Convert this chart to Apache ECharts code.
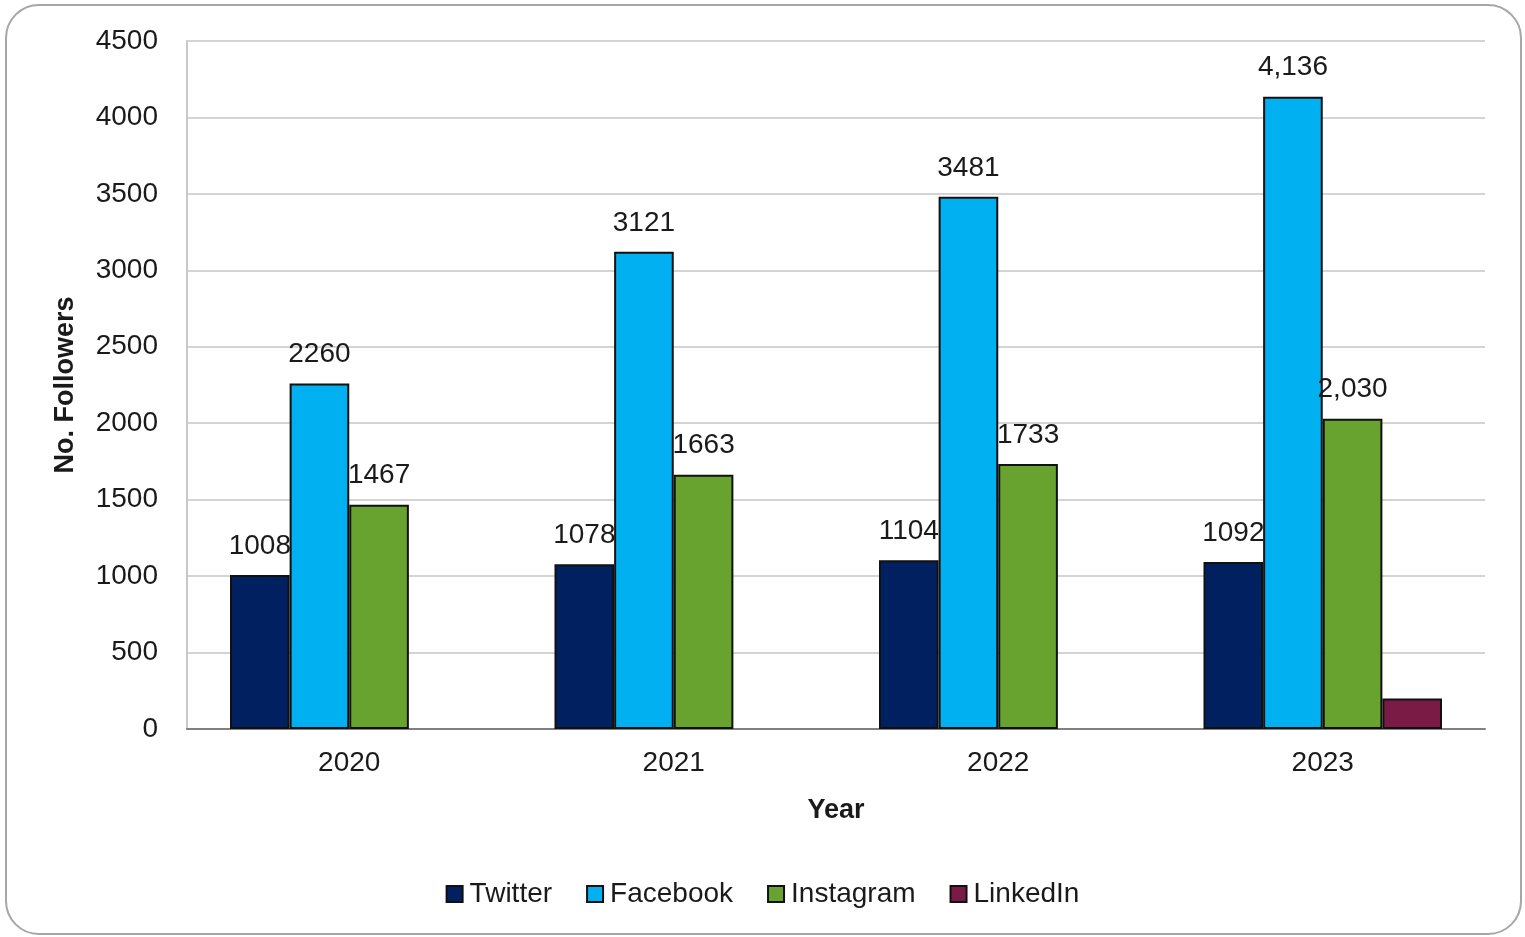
<!DOCTYPE html>
<html><head><meta charset="utf-8">
<script src="https://cdn.jsdelivr.net/npm/echarts@6/dist/echarts.min.js"></script>
<style>
html,body{margin:0;padding:0;background:#fff;}
#frame{position:absolute;left:5px;top:4px;width:1517px;height:931px;border:2px solid #a6a6a6;border-radius:34px;box-sizing:border-box;}
#chart{position:absolute;left:0;top:0;width:1525px;height:937px;}
</style></head>
<body>
<div id="frame"></div>
<div id="chart"></div>
<script>
const years = ['2020', '2021', '2022', '2023'];
const twitter = [1008, 1078, 1104, 1092];
const facebook = [2260, 3121, 3481, 4136];
const instagram = [1467, 1663, 1733, 2030];
const linkedin = [null, null, null, 200];
const twitterLabels = ['1008', '1078', '1104', '1092'];
const facebookLabels = ['2260', '3121', '3481', '4,136'];
const instagramLabels = ['1467', '1663', '1733', '2,030'];
const yTicks = { min: 0, max: 4500, interval: 500 };

const FONT = '"Liberation Sans", Arial, sans-serif';
const FS = 28;
const chart = echarts.init(document.getElementById('chart'), null, { renderer: 'canvas' });

function mkSeries(name, data, color, labels) {
  return {
    name: name,
    type: 'bar',
    data: data,
    barGap: '0%',
    barCategoryGap: '26.5%',
    itemStyle: { color: color, borderColor: '#111', borderWidth: 2 },
    label: labels ? {
      show: true, position: 'top', distance: 15,
      fontFamily: FONT, fontSize: FS, color: '#1a1a1a',
      formatter: p => labels[p.dataIndex]
    } : { show: false },
    emphasis: { disabled: true }
  };
}

chart.setOption({
  animation: false,
  textStyle: { fontFamily: FONT },
  grid: { left: 187, right: 40, top: 41, bottom: 208 },
  legend: {
    bottom: 24, left: 'center',
    itemWidth: 16, itemHeight: 16, itemGap: 34,
    icon: 'rect',
    textStyle: { fontFamily: FONT, fontSize: FS, color: '#1a1a1a', padding: [0, 0, 0, 2] },
    itemStyle: { borderColor: '#111', borderWidth: 2 },
    data: ['Twitter', 'Facebook', 'Instagram', 'LinkedIn']
  },
  xAxis: {
    type: 'category', data: years,
    name: 'Year', nameLocation: 'middle', nameGap: 68,
    nameTextStyle: { fontFamily: FONT, fontSize: 27, fontWeight: 'bold', color: '#1a1a1a' },
    axisLine: { lineStyle: { color: '#808080', width: 2 } },
    axisTick: { show: false },
    axisLabel: { fontFamily: FONT, fontSize: FS, color: '#1a1a1a', margin: 20 }
  },
  yAxis: {
    type: 'value', min: yTicks.min, max: yTicks.max, interval: yTicks.interval,
    name: 'No. Followers', nameLocation: 'middle', nameGap: 108, nameRotate: 90,
    nameTextStyle: { fontFamily: FONT, fontSize: 27, fontWeight: 'bold', color: '#1a1a1a' },
    axisLine: { show: true, lineStyle: { color: '#c8c8c8', width: 2 } },
    axisTick: { show: false },
    splitLine: { lineStyle: { color: '#d4d4d4', width: 2 } },
    axisLabel: { fontFamily: FONT, fontSize: FS, color: '#1a1a1a', margin: 29, formatter: v => String(v) }
  },
  series: [
    mkSeries('Twitter', twitter, '#002060', twitterLabels),
    mkSeries('Facebook', facebook, '#00b0f0', facebookLabels),
    mkSeries('Instagram', instagram, '#68a22f', instagramLabels),
    mkSeries('LinkedIn', linkedin, '#7a1b45', null)
  ]
});
</script>
</body></html>
